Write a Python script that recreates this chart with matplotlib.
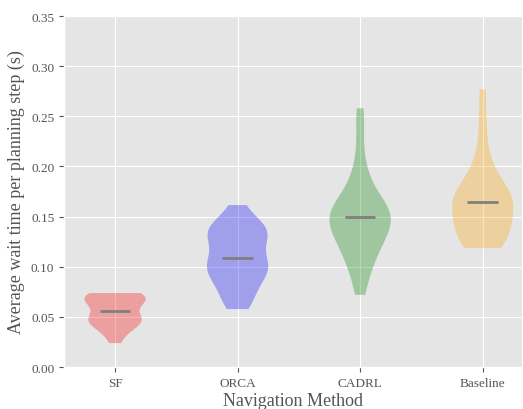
import matplotlib
matplotlib.use("Agg")
import matplotlib.pyplot as plt

plt.style.use("ggplot")
plt.rcParams['font.family'] = ['Liberation Serif', 'DejaVu Serif']

methods = ["SF", "ORCA", "CADRL", "Baseline"]
sf = [0.0738, 0.073, 0.072, 0.071, 0.070, 0.069, 0.068, 0.067, 0.066, 0.063, 0.058,
      0.054, 0.050, 0.048, 0.047, 0.046, 0.045, 0.044, 0.042, 0.038, 0.032, 0.0239]
orca = [0.1615, 0.147, 0.143, 0.140, 0.137, 0.134, 0.131, 0.127, 0.122, 0.117, 0.111,
        0.106, 0.103, 0.100, 0.097, 0.094, 0.090, 0.085, 0.079, 0.072, 0.065, 0.0578]
cadrl = [0.258, 0.235, 0.205, 0.190, 0.180, 0.172, 0.166, 0.161, 0.157, 0.155, 0.153,
         0.152, 0.151, 0.150, 0.145, 0.141, 0.138, 0.135, 0.131, 0.127, 0.123, 0.118,
         0.113, 0.107, 0.099, 0.088, 0.072]
baseline = [0.277, 0.245, 0.218, 0.202, 0.192, 0.185, 0.179, 0.174, 0.170, 0.168, 0.167,
            0.166, 0.165, 0.158, 0.153, 0.150, 0.146, 0.142, 0.138, 0.134, 0.130, 0.126,
            0.123, 0.121, 0.1186]
colors = ["red", "blue", "green", "orange"]
bandwidths = ["scott", 0.42, 0.42, 0.42]

fig = plt.figure(figsize=(5.23, 4.10), dpi=100)
ax = fig.add_axes([0.1224, 0.1024, 0.8756, 0.856])

data = [sf, orca, cadrl, baseline]
positions = list(range(1, len(methods) + 1))
for d, p, c, bw in zip(data, positions, colors, bandwidths):
    parts = ax.violinplot([d], positions=[p], widths=0.5, bw_method=bw,
                          showmeans=False, showextrema=False, showmedians=True)
    for body in parts['bodies']:
        body.set_facecolor(c)
        body.set_edgecolor('none')
        body.set_alpha(0.3)
    parts['cmedians'].set_color('#808080')
    parts['cmedians'].set_linewidth(2)

ax.set_xticks(positions)
ax.set_xticklabels(methods)
ax.set_xlim(0.584, 4.32)
ax.set_ylim(0, 0.35)
yt = [0.0, 0.05, 0.10, 0.15, 0.20, 0.25, 0.30, 0.35]
ax.set_yticks(yt)
ax.set_yticklabels([f"{v:.2f}" for v in yt])
ax.tick_params(labelsize=9.5, colors='#555555')
ax.set_xlabel("Navigation Method", fontsize=13, color='#555555', labelpad=2)
ax.set_ylabel("Average wait time per planning step (s)", fontsize=13, color='#555555')

fig.savefig("out.png", dpi=100)
